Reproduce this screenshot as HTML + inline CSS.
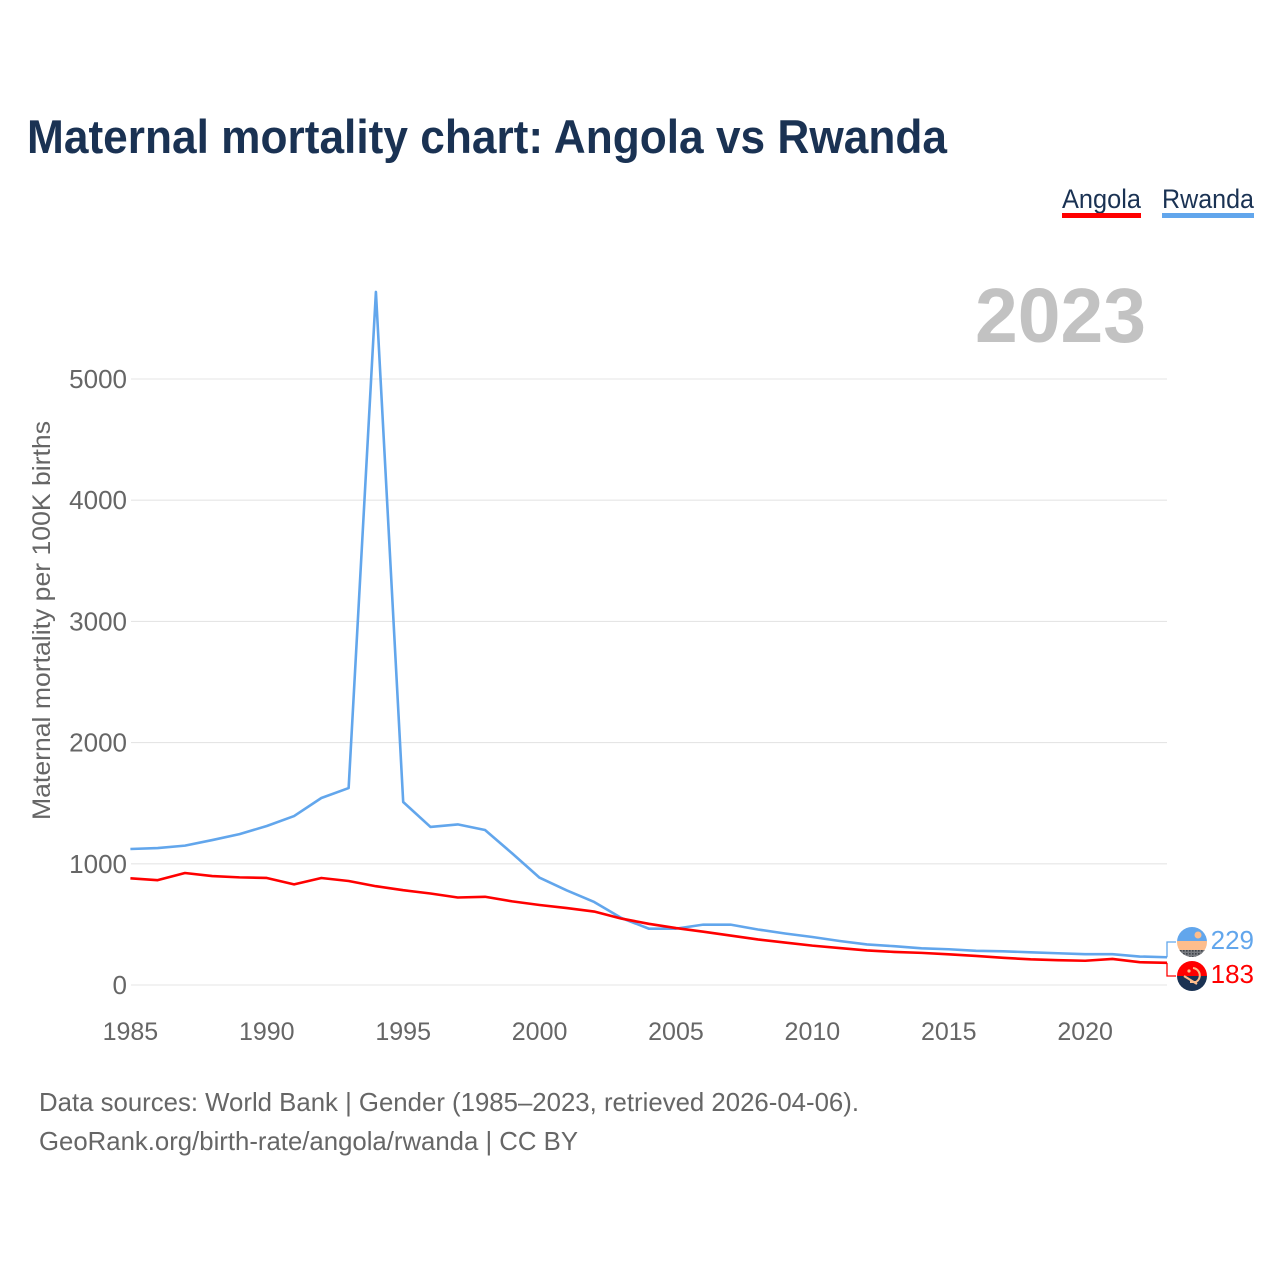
<!DOCTYPE html>
<html lang="en">
<head>
<meta charset="utf-8">
<title>Maternal mortality chart: Angola vs Rwanda</title>
<style>
html,body{margin:0;padding:0;background:#fff;width:1280px;height:1280px;overflow:hidden}
svg{display:block;font-family:"Liberation Sans",sans-serif}
</style>
</head>
<body>
<svg id="chart" width="1280" height="1280" viewBox="0 0 1280 1280" xmlns="http://www.w3.org/2000/svg">
<rect width="1280" height="1280" fill="#ffffff"/>
<text x="27" y="153" font-size="47" font-weight="700" fill="#1a3253" textLength="920" lengthAdjust="spacingAndGlyphs">Maternal mortality chart: Angola vs Rwanda</text>
<text x="1062" y="208" font-size="27" fill="#1a3253" textLength="79" lengthAdjust="spacingAndGlyphs">Angola</text>
<rect x="1062" y="213" width="79" height="5" fill="#ff0000"/>
<text x="1162" y="208" font-size="27" fill="#1a3253" textLength="92" lengthAdjust="spacingAndGlyphs">Rwanda</text>
<rect x="1162" y="213" width="92" height="5" fill="#62a6ec"/>
<text x="975" y="342" font-size="77" font-weight="700" fill="#c2c2c2" textLength="171" lengthAdjust="spacingAndGlyphs">2023</text>
<g id="grid"></g>
<g id="yticks"></g>
<g id="xticks"></g>
<text transform="translate(50 820) rotate(-90)" font-size="25" fill="#666666" textLength="399" lengthAdjust="spacingAndGlyphs">Maternal mortality per 100K births</text>
<g id="series"></g>
<g id="ends"></g>
<defs>
<pattern id="dots" width="3" height="3" patternUnits="userSpaceOnUse" x="1177" y="950">
<rect width="3" height="3" fill="#7a7d82"/>
<rect width="1.6" height="1.6" fill="#3f4349"/>
</pattern>
</defs>
<g>
<clipPath id="clipR"><circle cx="1192" cy="942" r="15"/></clipPath>
<g clip-path="url(#clipR)">
<rect x="1177" y="927" width="30" height="15" fill="#62a6ec"/>
<rect x="1177" y="941" width="30" height="10" fill="#fdbd8c"/>
<rect x="1177" y="950" width="30" height="7" fill="url(#dots)"/>
<circle cx="1198" cy="935" r="3.5" fill="#fdbd8c"/>
</g>
</g>
<g>
<clipPath id="clipA"><circle cx="1192" cy="976" r="15"/></clipPath>
<g clip-path="url(#clipA)">
<rect x="1177" y="961" width="30" height="15" fill="#ff0000"/>
<rect x="1177" y="976" width="30" height="15" fill="#1a3253"/>
<path d="M1193 968 A7.5 7.5 0 0 1 1196 982 L1190 982" fill="none" stroke="#fdbd8c" stroke-width="2"/>
<path d="M1184 976 L1197 984" fill="none" stroke="#fdbd8c" stroke-width="2.2"/>
<circle cx="1189" cy="971" r="1.6" fill="#fdbd8c"/>
</g>
</g>
<text x="39" y="1111" font-size="26" fill="#666666" textLength="820" lengthAdjust="spacingAndGlyphs">Data sources: World Bank | Gender (1985–2023, retrieved 2026-04-06).</text>
<text x="39" y="1150" font-size="26" fill="#666666" textLength="539" lengthAdjust="spacingAndGlyphs">GeoRank.org/birth-rate/angola/rwanda | CC BY</text>
</svg>
<script>
const years = [1985,1986,1987,1988,1989,1990,1991,1992,1993,1994,1995,1996,1997,1998,1999,2000,2001,2002,2003,2004,2005,2006,2007,2008,2009,2010,2011,2012,2013,2014,2015,2016,2017,2018,2019,2020,2021,2022,2023];
const rwanda = [1122,1130,1150,1196,1245,1312,1394,1543,1625,5718,1510,1304,1325,1279,1085,885,780,685,553,465,465,498,498,458,425,396,363,335,320,303,295,282,278,270,262,254,254,235,229];
const angola = [880,865,924,899,888,883,830,883,858,815,782,755,722,728,690,660,635,606,548,505,470,440,408,376,350,325,305,285,273,265,253,240,224,212,205,200,215,188,183];
const yTickValues = [0,1000,2000,3000,4000,5000];
const xTickValues = [1985,1990,1995,2000,2005,2010,2015,2020];

const NS = 'http://www.w3.org/2000/svg';
function xScale(year){ return 130.4 + (year - 1985) * (1167 - 130.4) / (2023 - 1985); }
function yScale(v){ return 985 - v * (985 - 379) / 5000; }
function make(tag, parent, attrs){
  const el = document.createElementNS(NS, tag);
  for (const k in attrs) el.setAttribute(k, attrs[k]);
  parent.appendChild(el);
  return el;
}
const grid = document.getElementById('grid');
const yticks = document.getElementById('yticks');
const xticks = document.getElementById('xticks');
const series = document.getElementById('series');
const ends = document.getElementById('ends');

yTickValues.forEach(function(v){
  const line = make('line', grid, {x1:131, x2:1167, y1:yScale(v), y2:yScale(v), stroke:'#e5e5e5', 'stroke-width':1.1});
  
  
  const t = make('text', yticks, {x:127, y:yScale(v) + 9, 'text-anchor':'end', 'font-size':26, fill:'#666666'});
  
  
  t.textContent = v;
});
xTickValues.forEach(function(y){
  const t = make('text', xticks, {x:xScale(y), y:1040, 'text-anchor':'middle', 'font-size':25, fill:'#666666'});
  
  
  t.textContent = y;
});
function pathFor(vals){
  return vals.map(function(v,i){ return (i ? 'L' : 'M') + xScale(years[i]).toFixed(2) + ' ' + yScale(v).toFixed(2); }).join(' ');
}
const rwandaLine = make('path', series, {d:pathFor(rwanda), fill:'none', stroke:'#62a6ec', 'stroke-width':2.6, 'stroke-linejoin':'round'});


const angolaLine = make('path', series, {d:pathFor(angola), fill:'none', stroke:'#ff0000', 'stroke-width':2.6, 'stroke-linejoin':'round'});



const rLast = rwanda[rwanda.length - 1];
const aLast = angola[angola.length - 1];
const rConn = make('path', ends, {d:'M1167 ' + yScale(rLast) + ' V942 H1176', fill:'none', stroke:'#62a6ec', 'stroke-width':1.3});


const aConn = make('path', ends, {d:'M1167 ' + yScale(aLast) + ' V976 H1176', fill:'none', stroke:'#ff0000', 'stroke-width':1.3});


const rLabel = make('text', ends, {x:1254, y:949, 'text-anchor':'end', 'font-size':26, fill:'#62a6ec'});


rLabel.textContent = rLast;
const aLabel = make('text', ends, {x:1254, y:983, 'text-anchor':'end', 'font-size':26, fill:'#ff0000'});


aLabel.textContent = aLast;
</script>
</body>
</html>
